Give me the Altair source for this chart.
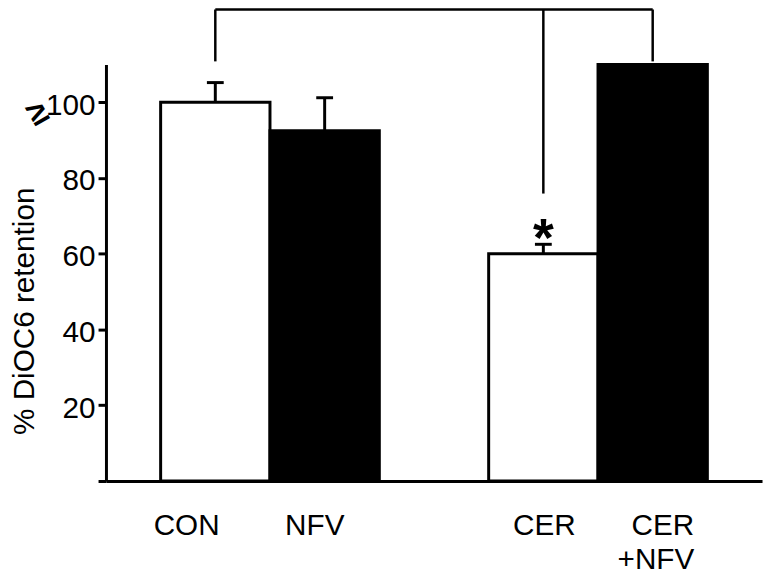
import altair as alt
import pandas as pd

# ---- data ----
CATEGORIES = ["CON", "NFV", "CER", "CER+NFV"]
LABELS = ["CON", "NFV", "CER", "CER\n+NFV"]
VALUES = [100.0, 92.5, 60.0, 110.0]          # CER+NFV is capped at the axis top (>=)
ERR_TOP = [105.2, 101.2, 62.5, None]
FILLS = ["white", "black", "white", "black"]
X_DOMAIN = ["CON", "NFV", "gap", "CER", "CER+NFV"]
Y_TICKS = [0, 20, 40, 60, 80, 100]

# significance bracket
BRACKET_TOP = 124.5
BRACKET_FEET = {"CON": 110.8, "CER": 75.9, "CER+NFV": 110.8}
STAR_CAT = "CER"
STAR_Y = 63.5

FONT = "Liberation Sans"

bars = pd.DataFrame({"cat": CATEGORIES, "value": VALUES, "fill": FILLS})
errs = pd.DataFrame({"cat": CATEGORIES, "value": VALUES, "top": ERR_TOP}).dropna()
feet = pd.DataFrame({"cat": list(BRACKET_FEET.keys()),
                     "foot": list(BRACKET_FEET.values()),
                     "top": [BRACKET_TOP] * len(BRACKET_FEET)})
hline = pd.DataFrame({"a": ["CON"], "b": ["CER+NFV"], "top": [BRACKET_TOP]})
star = pd.DataFrame({"cat": [STAR_CAT], "y": [STAR_Y], "t": ["*"]})
ge = pd.DataFrame({"y": [97.0], "t": ["≥"]})

xscale = alt.Scale(domain=X_DOMAIN, paddingInner=0, paddingOuter=0.5)
yscale = alt.Scale(domain=[0, 110], nice=False, zero=True)

X = alt.X("cat:N", scale=xscale,
          axis=alt.Axis(title=None, labels=False, ticks=False, domainWidth=3,
                        domainColor="black"))
Y = alt.Y("value:Q", scale=yscale,
          axis=alt.Axis(title="% DiOC6 retention", values=Y_TICKS, grid=False,
                        labelExpr="datum.value == 0 ? '' : datum.label",
                        tickSize=8, tickWidth=3, tickColor="black",
                        domainWidth=3, domainColor="black",
                        labelFont=FONT, labelFontSize=30, labelColor="black",
                        labelPadding=3, labelOffset=3,
                        titleFont=FONT, titleFontSize=30, titleFontWeight="normal",
                        titleColor="black", titleAngle=270, titleBaseline="alphabetic",
                        titleAlign="center", titleX=-73, titleY=249))

bar_layer = alt.Chart(bars).mark_bar(stroke="black", strokeWidth=3).encode(
    x=X, y=Y,
    fill=alt.Fill("fill:N", scale=None),
)

err_stem = alt.Chart(errs).mark_rule(color="black", strokeWidth=3).encode(
    x=alt.X("cat:N", scale=xscale), y=alt.Y("value:Q", scale=yscale), y2="top:Q")
err_cap = alt.Chart(errs).mark_tick(color="black", thickness=3, size=17, opacity=1).encode(
    x=alt.X("cat:N", scale=xscale), y=alt.Y("top:Q", scale=yscale))

feet_layer = alt.Chart(feet).mark_rule(color="black", strokeWidth=2.5).encode(
    x=alt.X("cat:N", scale=xscale), y=alt.Y("foot:Q", scale=yscale), y2="top:Q")
h_layer = alt.Chart(hline).mark_rule(color="black", strokeWidth=2.5).encode(
    x=alt.X("a:N", scale=xscale), x2="b:N", y=alt.Y("top:Q", scale=yscale))

star_layer = alt.Chart(star).mark_text(font=FONT, fontSize=54, fontWeight="bold",
                                       baseline="middle", color="black").encode(
    x=alt.X("cat:N", scale=xscale), y=alt.Y("y:Q", scale=yscale), text="t:N")

ge_layer = alt.Chart(ge).mark_text(font=FONT, fontSize=34, fontWeight="bold",
                                   baseline="middle", align="center", angle=330,
                                   color="black").encode(
    x=alt.value(-69), y=alt.Y("y:Q", scale=yscale), text="t:N")

LABEL_STYLE = {"CON": ("center", -29), "NFV": ("center", -10),
               "CER": ("center", 1), "CER+NFV": ("right", 42)}
label_layers = []
for cat, lab in zip(CATEGORIES, LABELS):
    align, dx = LABEL_STYLE[cat]
    d = pd.DataFrame({"cat": [cat], "t": [lab]})
    label_layers.append(
        alt.Chart(d).mark_text(font=FONT, fontSize=30, baseline="top", align=align,
                               dx=dx, lineBreak="\n", lineHeight=34, color="black").encode(
            x=alt.X("cat:N", scale=xscale), y=alt.value(452), text="t:N"))

chart = alt.layer(bar_layer, err_stem, err_cap, feet_layer, h_layer, star_layer,
                  ge_layer, *label_layers).properties(
    width=663, height=421,
    autosize=alt.AutoSizeParams(type="none"),
    padding={"left": 99, "top": 54, "right": 3, "bottom": 94},
    background="white",
).configure_view(stroke=None)

chart.save("out.html", embed_options={"renderer": "svg", "actions": False})
